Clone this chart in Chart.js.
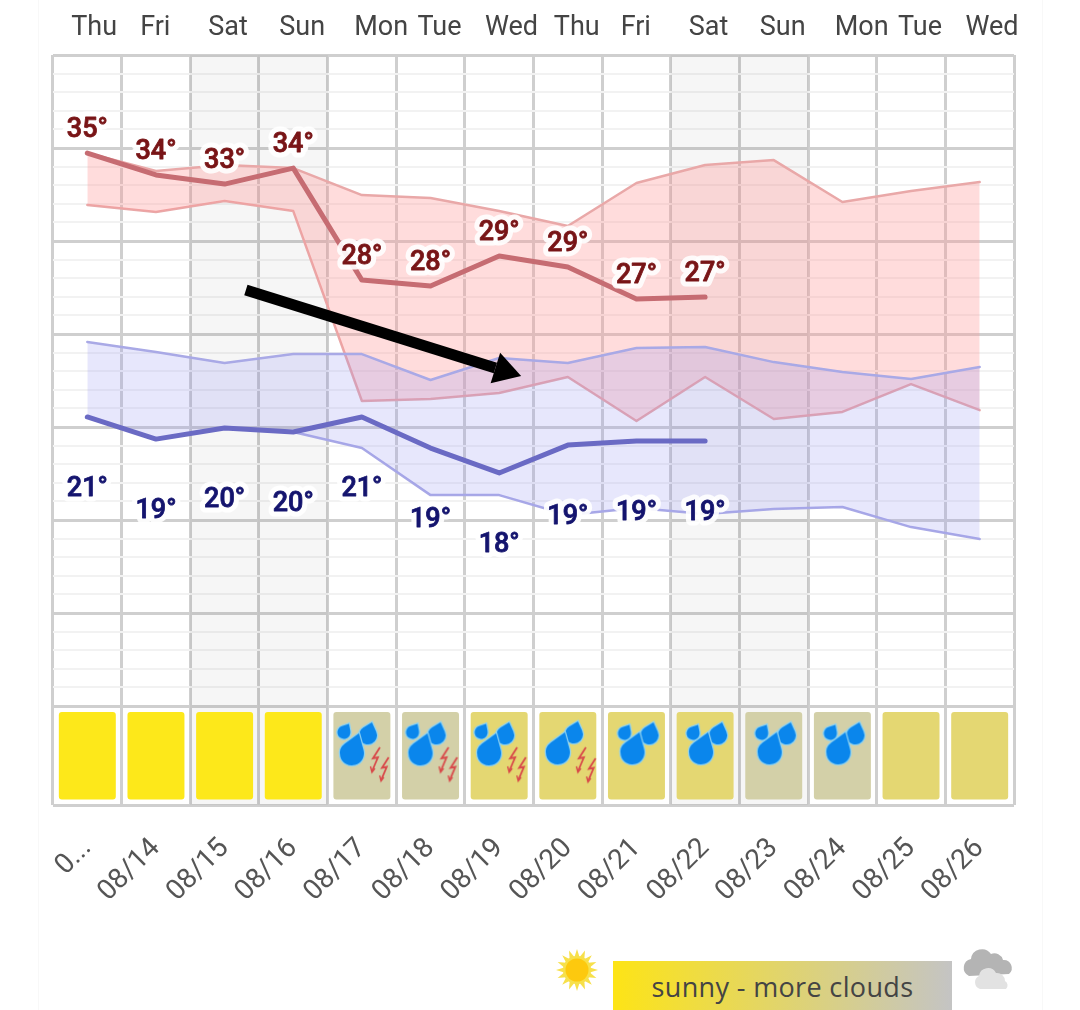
<!DOCTYPE html>
<html>
<head>
<meta charset="utf-8">
<script src="https://cdn.jsdelivr.net/npm/chart.js@4"></script>
<style>
html,body{margin:0;padding:0;background:#fff;width:1080px;height:1010px;overflow:hidden}
#wrap{position:relative;width:1080px;height:1010px}
#edge{position:absolute;left:38px;top:0;width:1003px;height:1010px;border-left:1px solid #f8f8f8;border-right:1px solid #f8f8f8}
canvas#c{position:absolute;left:0;top:0}
#legendBar{position:absolute;left:613px;top:961px;width:339px;height:49px;background:linear-gradient(90deg,#fde416 0%,#c4c4c4 100%);
 font:27px "Open Sans",sans-serif;color:#444;text-align:center;line-height:52px;letter-spacing:.35px}
svg{position:absolute}
</style>
</head>
<body>
<div id="wrap">
<div id="edge"></div>
<canvas id="c" width="1080" height="1010"></canvas>
<svg style="left:553px;top:946px" width="48" height="48" viewBox="-24 -24 48 48" id="sun"></svg>
<div id="legendBar">sunny - more clouds</div>
<svg style="left:960px;top:946px" width="56" height="46" viewBox="0 0 56 46">
 <path d="M9 30 a9 9 0 0 1 2-17 a11 11 0 0 1 20-5 a9 9 0 0 1 12 6 a8 8 0 0 1 6 14 z" fill="#b4b4b4"/>
 <path d="M20 43 a7 7 0 0 1-1-13 a9 9 0 0 1 17-3 a8 8 0 0 1 9 8 a5 5 0 0 1 1 8 z" fill="#e2e2e2"/>
</svg>
</div>
<script>
const dateLabels = ['0...','08/14','08/15','08/16','08/17','08/18','08/19','08/20','08/21','08/22','08/23','08/24','08/25','08/26'];
const dayLabels = ['Thu','Fri','Sat','Sun','Mon','Tue','Wed','Thu','Fri','Sat','Sun','Mon','Tue','Wed'];
const dayLabelSlots = [0.10,0.99,2.05,3.13,4.28,5.13,6.18,7.13,7.99,9.05,10.13,11.28,12.13,13.18];
const highTemps = [34.73,33.55,33.06,33.92,27.90,27.58,29.19,28.60,26.88,26.99,null,null,null,null];
const highBandUpper = [34.73,33.76,34.09,33.92,32.47,32.31,31.61,30.81,33.12,34.09,34.35,32.10,32.69,33.17];
const highBandLower = [31.94,31.56,32.15,31.61,21.40,21.51,21.83,22.69,20.32,22.69,20.43,20.81,22.31,20.91];
const lowTemps = [20.54,19.35,19.95,19.73,20.54,18.87,17.53,19.03,19.25,19.25,null,null,null,null];
const lowBandUpper = [24.57,24.03,23.44,23.92,23.92,22.53,23.71,23.44,24.25,24.30,23.49,22.96,22.58,23.23];
const lowBandLower = [20.54,19.35,19.95,19.73,18.87,16.34,16.34,15.27,15.65,15.32,15.59,15.70,14.62,13.98];
const highLabels = [35,34,33,34,28,28,29,29,27,27];
const lowLabels = [21,19,20,20,21,19,18,19,19,19];
const weekendDays = ['Sat','Sun'];
const skyKinds = ['clear','clear','clear','clear','cloudy','cloudy','partly','partly','partly','partly','cloudy','cloudy','partly','partly'];
const weatherIcons = [null,null,null,null,'storm','storm','storm','storm2','rain','rain','rain','rain',null,null];
const arrowFrom = {slot:2.31, temp:27.37};
const arrowTo = {slot:6.32, temp:22.74};

const AXIS_MIN = -0.32, AXIS_MAX = 40;
const CELL_LOW = -0.03, CELL_HIGH = 4.68, ICON_LEVEL = 2.35;
const skyColor = {clear:'#fde81a', cloudy:'#d3d0a8', partly:'#e4d772'};
const RED_LINE='#c66c72', RED_EDGE='#e9a8a8', RED_FILL='rgba(255,150,150,0.33)';
const BLUE_LINE='#6a6ac4', BLUE_EDGE='#a9a9e6', BLUE_FILL='rgba(150,150,240,0.23)';

function drop(g,cx,cy,r,tx,ty){
  const a=Math.atan2(ty,tx), d=Math.hypot(tx,ty), t=Math.acos(r/d);
  g.beginPath();
  g.arc(cx,cy,r,a+t,a-t+Math.PI*2,false);
  g.lineTo(cx+tx,cy+ty);
  g.closePath();
  g.lineWidth=2.5; g.strokeStyle='#8fd3f2'; g.stroke();
  g.fillStyle='#0a86ec'; g.fill();
}
function bolt(g,x,y,s){
  g.beginPath();
  g.moveTo(x+6*s,y); g.lineTo(x-1*s,y+11*s); g.lineTo(x+4*s,y+10*s); g.lineTo(x-2*s,y+24*s);
  g.lineWidth=1.8; g.strokeStyle='#d8494a'; g.stroke();
  g.beginPath(); g.moveTo(x-3.5*s,y+19*s); g.lineTo(x-2*s,y+25*s); g.lineTo(x+1*s,y+21*s);
  g.lineWidth=1.4; g.stroke();
}
function makeIcon(kind){
  const c=document.createElement('canvas'); c.width=70; c.height=90;
  const g=c.getContext('2d'); const mx=35,my=45;
  if(kind==='storm'){
    drop(g,mx-18,my-23,6.5,5,-8.5); drop(g,mx+6,my-20,9,4,-13); drop(g,mx-10,my-2,12,7,-20);
    bolt(g,mx+12,my-8,1); bolt(g,mx+21,my+2,.95);
  } else if(kind==='rain'){
    drop(g,mx-12,my-22,6.5,5,-8.5); drop(g,mx+13,my-20,9,4,-13); drop(g,mx-4,my-3,12,7,-20);
  } else if(kind==='storm2'){
    drop(g,mx+6,my-21,9,4,-13); drop(g,mx-10,my-3,12,7,-20);
    bolt(g,mx+12,my-8,1); bolt(g,mx+22,my+3,.95);
  }
  return c;
}
const iconCache={storm:makeIcon('storm'),rain:makeIcon('rain'),storm2:makeIcon('storm2')};

const labelsPlugin={
  id:'tempLabels',
  afterDatasetsDraw(chart){
    const g=chart.ctx,x=chart.scales.x,y=chart.scales.y;
    const draw=(vals,line,lift,color)=>{
      vals.forEach((v,i)=>{
        const t=v+'\u00b0', px=x.getPixelForValue(i), py=y.getPixelForValue(line[i])+lift;
        g.save();
        g.font='500 27px Roboto'; g.textAlign='center'; g.textBaseline='middle';
        g.lineJoin='round'; g.lineWidth=11; g.strokeStyle='rgba(255,255,255,0.9)';
        g.strokeText(t,px,py+1.5);
        g.lineWidth=0.8; g.strokeStyle=color; g.strokeText(t,px,py+1.5);
        g.fillStyle=color; g.fillText(t,px,py+1.5);
        g.restore();
      });
    };
    draw(highLabels,highTemps,-24,'#781416');
    draw(lowLabels,lowTemps,71,'#14146e');
    // black annotation arrow
    const ax=x.getPixelForValue(arrowFrom.slot), ay=y.getPixelForValue(arrowFrom.temp);
    const bx=x.getPixelForValue(arrowTo.slot), by=y.getPixelForValue(arrowTo.temp);
    const ang=Math.atan2(by-ay,bx-ax), len=27, hw=16;
    g.save();
    g.strokeStyle='#000'; g.fillStyle='#000'; g.lineWidth=11;
    g.beginPath(); g.moveTo(ax,ay);
    g.lineTo(bx-len*Math.cos(ang),by-len*Math.sin(ang)); g.stroke();
    g.beginPath(); g.moveTo(bx,by);
    g.lineTo(bx-len*Math.cos(ang)+hw*Math.sin(ang),by-len*Math.sin(ang)-hw*Math.cos(ang));
    g.lineTo(bx-len*Math.cos(ang)-hw*Math.sin(ang),by-len*Math.sin(ang)+hw*Math.cos(ang));
    g.closePath(); g.fill();
    g.restore();
  }
};

function lineSet(label,data,color,width,order,extra){
  return Object.assign({type:'line',label,data,borderColor:color,borderWidth:width,pointRadius:0,tension:0,fill:false,order,
    borderCapStyle:'round',borderJoinStyle:'round',spanGaps:false},extra||{});
}

new Chart(document.getElementById('c'),{
  data:{
    labels:dateLabels,
    datasets:[
      {type:'bar',label:'weekend',data:dayLabels.map(d=>weekendDays.includes(d)?[AXIS_MIN,AXIS_MAX]:null),
       backgroundColor:'rgba(0,0,0,0.035)',barPercentage:1,categoryPercentage:1,grouped:false,order:12},
      lineSet('highUpper',highBandUpper,RED_EDGE,2.5,9,{fill:'+1',backgroundColor:RED_FILL}),
      lineSet('highLower',highBandLower,RED_EDGE,2.5,9),
      lineSet('lowUpper',lowBandUpper,BLUE_EDGE,2.5,8,{fill:'+1',backgroundColor:BLUE_FILL}),
      lineSet('lowLower',lowBandLower,BLUE_EDGE,2.5,8),
      lineSet('high',highTemps,RED_LINE,5,6),
      lineSet('low',lowTemps,BLUE_LINE,5,6),
      {type:'bar',label:'sky',data:skyKinds.map(()=>[CELL_LOW,CELL_HIGH]),backgroundColor:skyKinds.map(k=>skyColor[k]),
       barPercentage:0.83,categoryPercentage:1,grouped:false,borderRadius:3,borderSkipped:false,order:5},
      {type:'line',label:'icons',data:weatherIcons.map(k=>k?ICON_LEVEL:null),showLine:false,
       pointStyle:weatherIcons.map(k=>k?iconCache[k]:false),pointRadius:10,order:4}
    ]
  },
  options:{
    responsive:false,animation:false,devicePixelRatio:1,
    layout:{padding:{left:53,right:66,top:0,bottom:0}},
    plugins:{legend:{display:false},tooltip:{enabled:false}},
    scales:{
      x:{type:'category',position:'bottom',offset:true,
        border:{display:false},
        grid:{offset:true,color:'#cfcfcf',lineWidth:3,drawTicks:false},
        ticks:{autoSkip:false,minRotation:45,maxRotation:45,padding:27,color:'#555',font:{family:'Roboto',size:28}},
        afterFit(s){s.height=205;}
      },
      top:{type:'linear',position:'top',axis:'x',min:-0.5,max:13.5,
        border:{display:false},grid:{display:false,drawTicks:false},
        afterBuildTicks(s){s.ticks=dayLabelSlots.map(v=>({value:v}));},
        ticks:{autoSkip:false,maxRotation:0,padding:11,color:'#444',font:{family:'Roboto',size:27},
          callback(v,i){return dayLabels[i];}},
        afterFit(s){s.height=55;}
      },
      y:{type:'linear',min:AXIS_MIN,max:AXIS_MAX,
        border:{display:false},
        afterBuildTicks(s){
          const t=[{value:AXIS_MIN}];
          for(let v=5;v<=AXIS_MAX;v++)t.push({value:v});
          s.ticks=t;
        },
        grid:{drawTicks:false,
          color(c){return (c.tick.value===AXIS_MIN||c.tick.value%5===0)?'#cfcfcf':'#f2f2f2';},
          lineWidth(c){return (c.tick.value===AXIS_MIN||c.tick.value%5===0)?3:2;}},
        ticks:{display:false},
        afterFit(s){s.width=0;}
      }
    }
  },
  plugins:[labelsPlugin]
});

// legend sun
const sun=document.getElementById('sun'); let sunMarkup='';
const rayCount=16;
for(let i=0;i<rayCount;i++){
  const a=i*2*Math.PI/rayCount;
  const p=(r,d)=>(r*Math.cos(a+d)).toFixed(1)+','+(r*Math.sin(a+d)).toFixed(1);
  sunMarkup+='<polygon points="'+p(13,-0.2)+' '+p(21,0)+' '+p(13,0.2)+'" fill="#f7e04a"/>';
}
sunMarkup+='<circle r="14" fill="#f7e04a"/><circle r="11.5" fill="#fdc90e"/>';
sun.innerHTML=sunMarkup;
</script>
</body>
</html>
